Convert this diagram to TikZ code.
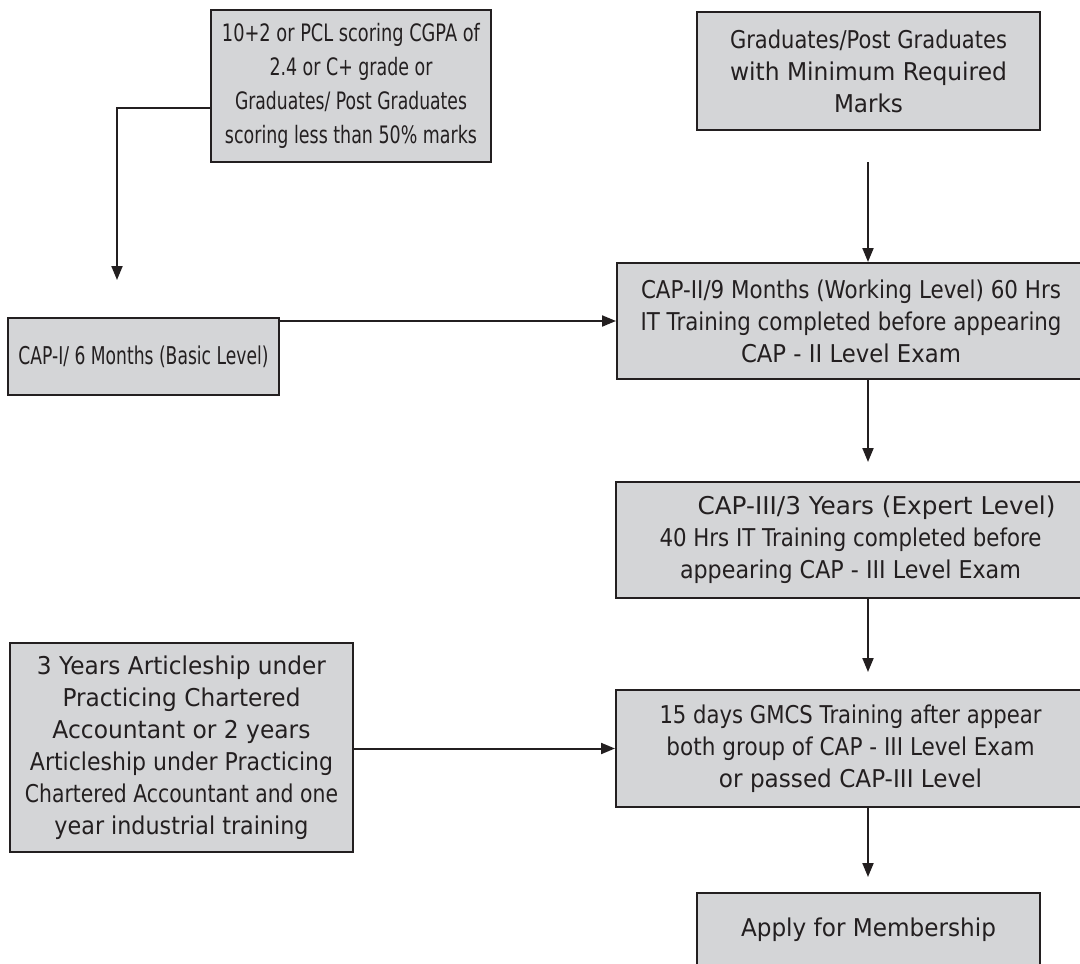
\documentclass[tikz,border=0pt]{standalone}
\usepackage{fontspec}
\setmainfont{DejaVu Sans}
\usepackage{graphicx}
\usetikzlibrary{arrows.meta}
\definecolor{boxfill}{RGB}{212,213,215}
\definecolor{edge}{RGB}{35,31,32}
\newcommand{\fitline}[2]{\resizebox{#1pt}{\height}{#2}}
\tikzset{
  box/.style={draw=edge, line width=2pt, fill=boxfill, inner sep=0pt, align=center,
    font=\fontsize{24.5}{32}\selectfont, text=edge},
  arr/.style={draw=edge, line width=2pt, -{Triangle[length=14pt,width=11pt]}},
}
\begin{document}
\begin{tikzpicture}[x=1pt,y=-1pt]
\useasboundingbox (0,0) rectangle (1080,964);

\node[box, minimum width=280pt, minimum height=152pt, font=\fontsize{24}{34}\selectfont] (A) at (351,86)
  {\fitline{258}{10+2 or PCL scoring CGPA of}\\
   \fitline{163}{2.4 or C+ grade or}\\
   \fitline{232}{Graduates/ Post Graduates}\\
   \fitline{252}{scoring less than 50\% marks}};

\node[box, minimum width=343pt, minimum height=118pt] (B) at (868.5,71)
  {\fitline{277}{Graduates/Post Graduates}\\
   \fitline{277}{with Minimum Required}\\
   \fitline{69}{Marks}};

\node[box, minimum width=271pt, minimum height=77pt] (cap1) at (143.5,356.5)
  {\fitline{250}{CAP-I/ 6 Months (Basic Level)}};

\node[box, minimum width=468pt, minimum height=116pt] (cap2) at (851,321)
  {\fitline{420}{CAP-II/9 Months (Working Level) 60 Hrs}\\
   \fitline{421}{IT Training completed before appearing}\\
   \fitline{220}{CAP - II Level Exam}};

\node[box, minimum width=469pt, minimum height=116pt] (cap3) at (850.5,540)
  {\hspace*{52pt}\fitline{358}{CAP-III/3 Years (Expert Level)}\\
   \fitline{382}{40 Hrs IT Training completed before}\\
   \fitline{341}{appearing CAP - III Level Exam}};

\node[box, minimum width=469pt, minimum height=117pt] (gmcs) at (850.5,748.5)
  {\fitline{382}{15 days GMCS Training after appear}\\
   \fitline{368}{both group of CAP - III Level Exam}\\
   \fitline{263}{or passed CAP-III Level}};

\node[box, minimum width=343pt, minimum height=209pt] (art) at (181.5,747.5)
  {\fitline{289}{3 Years Articleship under}\\
   \fitline{238}{Practicing Chartered}\\
   \fitline{258}{Accountant or 2 years}\\
   \fitline{303}{Articleship under Practicing}\\
   \fitline{313}{Chartered Accountant and one}\\
   \fitline{254}{year industrial training}};

\node[box, minimum width=343pt, minimum height=74pt] (apply) at (868.5,930)
  {\fitline{255}{Apply for Membership}};

\coordinate (c1) at (117,280);
\coordinate (b1) at (868,162);
\coordinate (t1) at (868,462);
\coordinate (t2) at (868,672);
\coordinate (t3) at (868,877);

\draw[arr] ([yshift=-22pt]A.west) -| (c1);
\draw[arr] ([yshift=35.5pt]cap1.east) -- (cap2.west);
\draw[arr] (b1) -- (b1 |- cap2.north);
\draw[arr] (cap2.south -| t1) -- (t1);
\draw[arr] (cap3.south -| t2) -- (t2);
\draw[arr] (art.east |- gmcs.west) -- (gmcs.west);
\draw[arr] (gmcs.south -| t3) -- (t3);
\end{tikzpicture}
\end{document}
